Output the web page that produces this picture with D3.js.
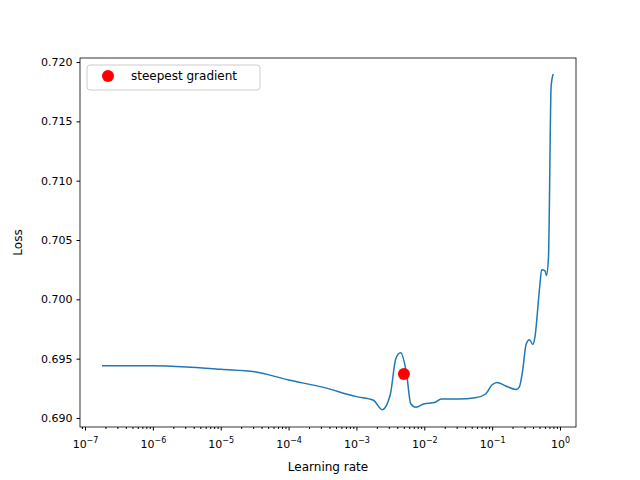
<!DOCTYPE html>
<html><head><meta charset="utf-8">
<script src="https://cdn.jsdelivr.net/npm/d3@7"></script>
<style>body{margin:0;background:#fff}text{font-family:"DejaVu Sans",sans-serif}</style>
</head><body><svg id="chart" width="640" height="480"></svg>
<script>
// learning rate (log10) and loss
var logLr = [-6.75,-6,-5.5,-5,-4.5,-4,-3.5,-3,-2.75,-2.62,-2.5,-2.42,-2.35,-2.26,-2.2,-2.12,-2,-1.85,-1.75,-1.5,-1.25,-1.1,-1.0,-0.93,-0.8,-0.65,-0.6,-0.55,-0.5,-0.45,-0.4,-0.37,-0.3,-0.27,-0.22,-0.2,-0.17,-0.13,-0.1];
var loss  = [0.6944,0.6944,0.6943,0.6941,0.6939,0.6932,0.6926,0.6918,0.6915,0.6907,0.6920,0.6950,0.6955,0.6937,0.6912,0.6909,0.6912,0.6913,0.6916,0.6916,0.6917,0.6920,0.6928,0.6930,0.6927,0.6924,0.6926,0.6940,0.6962,0.6966,0.6962,0.6968,0.7010,0.7025,0.7024,0.7020,0.7035,0.7180,0.7190];
var steepest = {lr: Math.pow(10,-2.30), loss: 0.6937};
var yTicks = [0.690,0.695,0.700,0.705,0.710,0.715,0.720];
var xTickExp = [-7,-6,-5,-4,-3,-2,-1,0];

(function() {
var pl=80, pr=576, pt=58, pb=427;
var svg = d3.select("#chart");
var x = d3.scaleLog().domain([Math.pow(10,-7.074), Math.pow(10,0.236)]).range([pl,pr]);
var y = d3.scaleLinear().domain([0.68924,0.72034]).range([pb,pt]);

var minor = [];
for (var e=-8; e<1; e++) for (var k=2; k<10; k++) { var v=k*Math.pow(10,e); if (v>x.domain()[0] && v<x.domain()[1]) minor.push(v); }

svg.append("g").attr("transform","translate(0,"+pb+")")
  .call(d3.axisBottom(x).tickValues(minor).tickSize(2).tickFormat(""));
var xa = svg.append("g").attr("transform","translate(0,"+pb+")")
  .call(d3.axisBottom(x).tickValues(xTickExp.map(function(e){return Math.pow(10,e);}))
    .tickSize(3.5).tickPadding(4).tickFormat(""));
xa.selectAll(".tick").append("text").attr("y",21).attr("text-anchor","middle").attr("fill","#000")
  .attr("font-size",11)
  .each(function(d){
    var t=d3.select(this), ex=Math.round(Math.log10(d));
    t.append("tspan").text("10");
    t.append("tspan").attr("font-size",8).attr("dy",-5).text(ex===0?"0":"\u2212"+(-ex));
  });
svg.append("g").attr("transform","translate("+pl+",0)")
  .call(d3.axisLeft(y).tickValues(yTicks).tickSize(3.5).tickPadding(4).tickFormat(d3.format(".3f")));
svg.selectAll(".tick text").attr("font-size",11).attr("fill","#000").attr("font-family","DejaVu Sans");
svg.selectAll(".tick line").attr("stroke","#000");
svg.selectAll(".domain").remove();
svg.append("rect").attr("x",pl).attr("y",pt).attr("width",pr-pl).attr("height",pb-pt)
  .attr("fill","none").attr("stroke","#000").attr("stroke-width",0.8);

var pts = logLr.map(function(l,i){return [x(Math.pow(10,l)), y(loss[i])];});
svg.append("path").attr("d", d3.line().curve(d3.curveMonotoneX)(pts))
  .attr("fill","none").attr("stroke","#1f77b4").attr("stroke-width",1.5);
svg.append("circle").attr("cx",x(steepest.lr)).attr("cy",y(steepest.loss)).attr("r",6).attr("fill","red");

svg.append("text").attr("x",(pl+pr)/2).attr("y",471).attr("text-anchor","middle").attr("font-size",12).text("Learning rate");
svg.append("text").attr("transform","translate(22,"+((pt+pb)/2)+") rotate(-90)").attr("text-anchor","middle").attr("font-size",12).text("Loss");

var lg = svg.append("g");
lg.append("rect").attr("x",87).attr("y",65).attr("width",173).attr("height",25).attr("rx",3)
  .attr("fill","#fff").attr("stroke","#ccc");
lg.append("circle").attr("cx",108).attr("cy",76).attr("r",6).attr("fill","red");
lg.append("text").attr("x",131).attr("y",80).attr("font-size",12).text("steepest gradient");
})();
</script></body></html>
